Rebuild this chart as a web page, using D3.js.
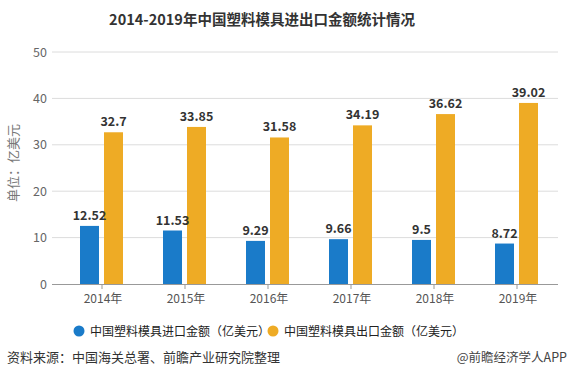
<!DOCTYPE html>
<html><head><meta charset="utf-8">
<script src="https://cdnjs.cloudflare.com/ajax/libs/d3/7.8.5/d3.min.js"></script>
<style>body{margin:0;background:#fff}svg{display:block;font-family:"Microsoft YaHei","Noto Sans CJK SC",sans-serif}</style>
</head><body>
<script>
const categories = ["2014年","2015年","2016年","2017年","2018年","2019年"];
const importValues = [12.52, 11.53, 9.29, 9.66, 9.5, 8.72];
const exportValues = [32.7, 33.85, 31.58, 34.19, 36.62, 39.02];
const importLabels = ["12.52","11.53","9.29","9.66","9.5","8.72"];
const exportLabels = ["32.7","33.85","31.58","34.19","36.62","39.02"];
const yTicks = [0,10,20,30,40,50];
const seriesNames = ["中国塑料模具进口金额（亿美元）","中国塑料模具出口金额（亿美元）"];
const colors = ["#1a7bc9","#eeab25"];

const W=571,H=382;
const svg=d3.select("body").append("svg").attr("width",W).attr("height",H);
const x=d3.scaleBand().domain(categories).range([60.5,558.5]);
const y=d3.scaleLinear().domain([0,50]).range([284,52]);

svg.append("text").attr("x",262).attr("y",25).attr("text-anchor","middle")
  .attr("font-size",14.5).attr("font-weight","bold").attr("fill","#333")
  .text("2014-2019年中国塑料模具进出口金额统计情况");

// grid
svg.append("g").selectAll("line").data(yTicks.filter(d=>d>0)).join("line")
  .attr("x1",52).attr("x2",558).attr("y1",d=>y(d)).attr("y2",d=>y(d))
  .attr("stroke","#dcdcdc").attr("stroke-width",1);
// y labels
svg.append("g").selectAll("text").data(yTicks).join("text")
  .attr("x",47).attr("y",d=>y(d)+4.5).attr("text-anchor","end")
  .attr("font-size",12.5).attr("fill","#666").text(d=>d);
svg.append("text").attr("transform","translate(18,163) rotate(-90)")
  .attr("text-anchor","middle").attr("font-size",13).attr("fill","#777").text("单位：亿美元");

const bw=19;
const g=svg.append("g");
g.selectAll("rect.imp").data(importValues).join("rect")
  .attr("x",(d,i)=>x(categories[i])+x.bandwidth()/2-22).attr("width",bw)
  .attr("y",d=>y(d)).attr("height",d=>y(0)-y(d)).attr("fill",colors[0]);
g.selectAll("rect.exp").data(exportValues).join("rect")
  .attr("x",(d,i)=>x(categories[i])+x.bandwidth()/2+2).attr("width",bw)
  .attr("y",d=>y(d)).attr("height",d=>y(0)-y(d)).attr("fill",colors[1]);
g.selectAll("text.il").data(importValues).join("text")
  .attr("x",(d,i)=>x(categories[i])+x.bandwidth()/2-12.5).attr("y",d=>y(d)-6)
  .attr("text-anchor","middle").attr("font-size",12.5).attr("font-weight","bold").attr("fill","#333")
  .text((d,i)=>importLabels[i]);
g.selectAll("text.el").data(exportValues).join("text")
  .attr("x",(d,i)=>x(categories[i])+x.bandwidth()/2+11.5).attr("y",d=>y(d)-6)
  .attr("text-anchor","middle").attr("font-size",12.5).attr("font-weight","bold").attr("fill","#333")
  .text((d,i)=>exportLabels[i]);

// x axis
svg.append("line").attr("x1",52).attr("x2",558).attr("y1",284.5).attr("y2",284.5).attr("stroke","#999");
svg.append("g").selectAll("line").data(categories).join("line")
  .attr("x1",d=>x(d)+x.bandwidth()/2).attr("x2",d=>x(d)+x.bandwidth()/2)
  .attr("y1",284).attr("y2",289).attr("stroke","#999");
svg.append("g").selectAll("text").data(categories).join("text")
  .attr("x",d=>x(d)+x.bandwidth()/2+1).attr("y",303).attr("text-anchor","middle")
  .attr("font-size",12).attr("fill","#555").text(d=>d);

// legend
const lx=[79,273];
seriesNames.forEach((n,i)=>{
  svg.append("circle").attr("cx",lx[i]).attr("cy",331).attr("r",5.5).attr("fill",colors[i]);
  svg.append("text").attr("x",lx[i]+11).attr("y",335.5).attr("font-size",12).attr("fill","#222").text(n);
});

svg.append("text").attr("x",7).attr("y",362).attr("font-size",13).attr("fill","#333").text("资料来源：中国海关总署、前瞻产业研究院整理");
svg.append("text").attr("x",567).attr("y",362).attr("text-anchor","end").attr("font-size",12.5).attr("fill","#444").text("@前瞻经济学人APP");
</script>
</body></html>
